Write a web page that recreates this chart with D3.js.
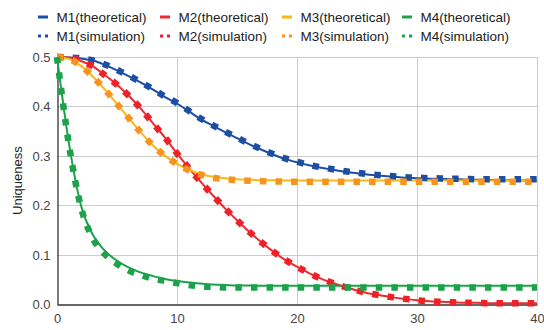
<!DOCTYPE html>
<html>
<head>
<meta charset="utf-8">
<script src="https://cdn.jsdelivr.net/npm/d3@7"></script>
<style>
  body { margin: 0; background: #fff; }
  text { font-family: "Liberation Sans", Arial, sans-serif; }
</style>
</head>
<body>
<div class="chart"></div>
<script>
// x positions (iterations)
const steps = d3.range(0, 41);

// theoretical curves
const m1Theo = [0.500, 0.499, 0.497, 0.493, 0.484, 0.473, 0.461, 0.448, 0.434, 0.419, 0.406, 0.390, 0.374, 0.361, 0.348, 0.336, 0.324, 0.313, 0.303, 0.294, 0.287, 0.281, 0.276, 0.272, 0.268, 0.265, 0.262, 0.260, 0.258, 0.256, 0.255, 0.254, 0.2535, 0.253, 0.2525, 0.252, 0.2515, 0.251, 0.251, 0.2505, 0.2505];
const m2Theo = [0.500, 0.499, 0.492, 0.481, 0.463, 0.444, 0.421, 0.395, 0.366, 0.337, 0.305, 0.275, 0.247, 0.220, 0.194, 0.170, 0.147, 0.126, 0.107, 0.090, 0.076, 0.063, 0.052, 0.043, 0.035, 0.028, 0.022, 0.018, 0.014, 0.011, 0.008, 0.006, 0.005, 0.004, 0.003, 0.003, 0.002, 0.002, 0.002, 0.002, 0.002];
const m3Theo = [0.500, 0.496, 0.482, 0.460, 0.434, 0.405, 0.376, 0.347, 0.321, 0.300, 0.284, 0.272, 0.263, 0.258, 0.255, 0.253, 0.252, 0.251, 0.251, 0.2505, 0.2505, 0.2505, 0.2505, 0.2505, 0.2505, 0.2505, 0.2505, 0.2505, 0.2505, 0.2505, 0.2505, 0.2505, 0.2505, 0.2505, 0.2505, 0.2505, 0.2505, 0.2505, 0.2505, 0.2505, 0.2505];
const m4Theo = [0.500, 0.325, 0.200, 0.140, 0.108, 0.088, 0.074, 0.064, 0.057, 0.051, 0.047, 0.044, 0.042, 0.040, 0.039, 0.038, 0.038, 0.0375, 0.0375, 0.0375, 0.0375, 0.0375, 0.0375, 0.0375, 0.0375, 0.0375, 0.0375, 0.0375, 0.0375, 0.0375, 0.0375, 0.0375, 0.0375, 0.0375, 0.0375, 0.0375, 0.0375, 0.0375, 0.0375, 0.0375, 0.0375];

// simulation curves
const m1Sim = [0.500, 0.499, 0.497, 0.493, 0.485, 0.474, 0.462, 0.449, 0.435, 0.420, 0.407, 0.391, 0.375, 0.362, 0.349, 0.337, 0.325, 0.314, 0.304, 0.295, 0.288, 0.282, 0.277, 0.273, 0.269, 0.266, 0.263, 0.261, 0.259, 0.257, 0.256, 0.255, 0.2545, 0.254, 0.2535, 0.253, 0.253, 0.253, 0.253, 0.253, 0.253];
const m2Sim = [0.500, 0.499, 0.492, 0.481, 0.463, 0.444, 0.421, 0.395, 0.366, 0.337, 0.305, 0.275, 0.247, 0.220, 0.194, 0.170, 0.147, 0.126, 0.107, 0.090, 0.076, 0.063, 0.052, 0.043, 0.035, 0.028, 0.022, 0.018, 0.014, 0.011, 0.008, 0.006, 0.005, 0.004, 0.003, 0.003, 0.002, 0.002, 0.002, 0.002, 0.002];
const m3Sim = [0.500, 0.496, 0.482, 0.460, 0.434, 0.405, 0.376, 0.347, 0.321, 0.300, 0.284, 0.271, 0.262, 0.256, 0.253, 0.251, 0.250, 0.249, 0.2485, 0.248, 0.248, 0.248, 0.248, 0.248, 0.248, 0.248, 0.248, 0.248, 0.248, 0.248, 0.248, 0.248, 0.248, 0.248, 0.248, 0.248, 0.248, 0.248, 0.248, 0.248, 0.248];
const m4Sim = [0.500, 0.322, 0.196, 0.133, 0.101, 0.082, 0.068, 0.059, 0.052, 0.047, 0.043, 0.039, 0.036, 0.035, 0.034, 0.034, 0.034, 0.034, 0.034, 0.034, 0.034, 0.034, 0.034, 0.034, 0.034, 0.034, 0.034, 0.034, 0.034, 0.034, 0.034, 0.034, 0.034, 0.034, 0.034, 0.034, 0.034, 0.034, 0.034, 0.034, 0.034];

const seriesNames = ['M1(theoretical)', 'M2(theoretical)', 'M3(theoretical)', 'M4(theoretical)',
                     'M1(simulation)', 'M2(simulation)', 'M3(simulation)', 'M4(simulation)'];
const xTicks = [0, 10, 20, 30, 40];
const yTicks = [0, 0.1, 0.2, 0.3, 0.4, 0.5];

const series = [
  { name: seriesNames[0], values: m1Theo, color: '#1c4fa3', sim: false },
  { name: seriesNames[1], values: m2Theo, color: '#ee2a2c', sim: false },
  { name: seriesNames[2], values: m3Theo, color: '#fbb812', sim: false },
  { name: seriesNames[3], values: m4Theo, color: '#1ba24a', sim: false },
  { name: seriesNames[4], values: m1Sim, color: '#1c4fa3', sim: true },
  { name: seriesNames[5], values: m2Sim, color: '#ee2129', sim: true },
  { name: seriesNames[6], values: m3Sim, color: '#f7931e', sim: true },
  { name: seriesNames[7], values: m4Sim, color: '#1ba24a', sim: true }
];

const width = 544, height = 330;
const margin = { top: 57, right: 7, bottom: 26, left: 57 };

const svg = d3.select('.chart').append('svg')
  .attr('width', width)
  .attr('height', height);

const xScale = d3.scaleLinear()
  .domain([0, 40])
  .range([margin.left, width - margin.right]);

const yScale = d3.scaleLinear()
  .domain([0, 0.5])
  .range([height - margin.bottom + 0.3, margin.top]);

// gridlines
svg.append('g')
  .selectAll('line.hgrid')
  .data(yTicks.slice(1))
  .enter().append('line')
  .attr('x1', margin.left).attr('x2', width - margin.right)
  .attr('y1', d => Math.round(yScale(d)) + 0.5).attr('y2', d => Math.round(yScale(d)) + 0.5)
  .style('stroke', '#cccccc');

svg.append('g')
  .selectAll('line.vgrid')
  .data(xTicks.slice(1))
  .enter().append('line')
  .attr('x1', d => Math.round(xScale(d)) + 0.5).attr('x2', d => Math.round(xScale(d)) + 0.5)
  .attr('y1', margin.top).attr('y2', yScale(0))
  .style('stroke', '#cccccc');

// axes
const xAxis = svg.append('g')
  .attr('transform', `translate(0, ${Math.round(yScale(0)) + 0.5})`)
  .call(d3.axisBottom(xScale).tickValues(xTicks).tickSize(0).tickPadding(9));

const yAxis = svg.append('g')
  .attr('transform', `translate(${Math.round(xScale(0)) + 0.5}, 0)`)
  .call(d3.axisLeft(yScale).tickValues(yTicks).tickFormat(d3.format('.1f')).tickSize(0).tickPadding(7));

[xAxis, yAxis].forEach(a => {
  a.select('.domain').style('stroke', '#333333').style('stroke-width', 1.3);
  a.selectAll('text').style('font-size', '13px').style('fill', '#444444');
});

svg.append('text')
  .attr('transform', `translate(22, ${(yScale(0) + yScale(0.5)) / 2}) rotate(-90)`)
  .attr('text-anchor', 'middle')
  .style('font-size', '13px')
  .style('fill', '#222222')
  .text('Uniqueness');

const line = d3.line()
  .x((d, i) => xScale(steps[i]))
  .y(d => yScale(d))
  .curve(d3.curveMonotoneX);

// theoretical lines first, simulation dots on top
svg.append('g')
  .selectAll('path')
  .data(series)
  .enter().append('path')
  .attr('d', d => line(d.values))
  .style('fill', 'none')
  .style('stroke', d => d.color)
  .style('stroke-width', d => d.sim ? 6.5 : 2)
  .style('stroke-dasharray', d => d.sim ? '6.5,9.1' : null)
  .style('stroke-linecap', 'butt');

// legend
const legendX = [38, 160, 282, 402];
const legendY = [17, 36];
const legend = svg.append('g')
  .selectAll('g')
  .data(series)
  .enter().append('g')
  .attr('transform', (d, i) => `translate(${legendX[i % 4]}, ${legendY[Math.floor(i / 4)]})`);

legend.append('line')
  .attr('x1', 0).attr('x2', 10)
  .attr('y1', 0).attr('y2', 0)
  .style('stroke', d => d.color)
  .style('stroke-width', 3)
  .style('stroke-dasharray', d => d.sim ? '3,4' : null);

legend.append('text')
  .attr('x', 18.5)
  .attr('y', 0)
  .attr('dy', '0.35em')
  .style('font-size', '13.5px')
  .style('fill', '#222222')
  .text(d => d.name);
</script>
</body>
</html>
